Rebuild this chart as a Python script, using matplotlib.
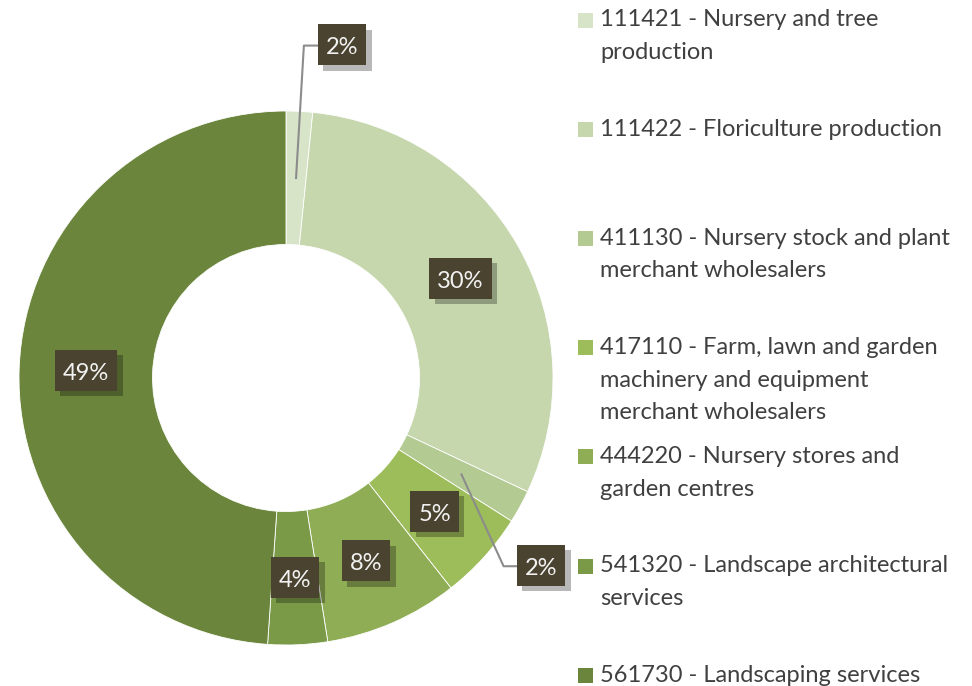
"""
Donut chart: share of establishments by NAICS industry (nursery and landscaping).
"""

import numpy as np
import matplotlib.pyplot as plt
import matplotlib.patheffects as pe
import matplotlib.transforms as mtransforms
from matplotlib.patches import Rectangle

# data
industries = [
    "111421 - Nursery and tree\nproduction",
    "111422 - Floriculture production",
    "411130 - Nursery stock and plant\nmerchant wholesalers",
    "417110 - Farm, lawn and garden\nmachinery and equipment\nmerchant wholesalers",
    "444220 - Nursery stores and\ngarden centres",
    "541320 - Landscape architectural\nservices",
    "561730 - Landscaping services",
]
shares = [1.6, 30.4, 2.0, 5.4, 8.1, 3.6, 48.9]

colors = ["#D8E4C8", "#C6D7AE", "#B3CB92", "#9DBC5A", "#8FAD55", "#7A9A47", "#6B863C"]

# callout boxes for the thin slices: (slice index, box centre, elbow point) in data units
callouts = {
    0: ((0.21, 1.245), (0.067, 1.245)),
    2: ((0.955, -0.705), (0.815, -0.705)),
}

plt.rcParams['font.family'] = ['Lato', 'DejaVu Sans']

fig = plt.figure(figsize=(9.72, 6.86), dpi=100)
W, H = 972, 686
cx, cy, R = 286, 378, 267  # pixel centre and radius of the donut
ax = fig.add_axes([0, 0, 572 / W, 1])

wedges, _ = ax.pie(shares, colors=colors, startangle=90, counterclock=False,
                   radius=1, wedgeprops=dict(width=0.5, edgecolor='white', linewidth=0.6))
ax.set_aspect('auto')
ax.set_xlim(-cx / R, (572 - cx) / R)
ax.set_ylim(-(H - cy) / R, cy / R)
ax.axis('off')
for w in wedges:
    w.set_clip_on(False)

box_color = '#4A4330'
box_shadow = [pe.SimplePatchShadow(offset=(4, -4), shadow_rgbFace='black', alpha=0.28),
              pe.Normal()]
renderer = fig.canvas.get_renderer()


def boxed(x, y, s):
    # label text with a fixed-height dark box (sized in pixels) behind it
    t = ax.text(x, y, s, ha='center', va='center_baseline', fontsize=17,
                color='#F2F2F2', clip_on=False, zorder=6)
    bw = t.get_window_extent(renderer).width + 16
    bh = 41
    box = Rectangle((-bw / 2, -bh / 2 + 1), bw, bh, fc=box_color, ec='none',
                    zorder=5, clip_on=False,
                    transform=mtransforms.ScaledTranslation(x, y, ax.transData))
    box.set_path_effects(box_shadow)
    ax.add_patch(box)


for i, (w, v) in enumerate(zip(wedges, shares)):
    mid = np.deg2rad((w.theta1 + w.theta2) / 2)
    px, py = 0.75 * np.cos(mid), 0.75 * np.sin(mid)
    label = f"{round(v)}%"
    if i in callouts:
        (bx, by), (ex, ey) = callouts[i]
        ax.plot([px, ex, bx - 0.05], [py, ey, by], color='#8C8C8C', lw=1.5,
                clip_on=False, zorder=3)
        boxed(bx, by, label)
    else:
        boxed(px, py, label)

# legend drawn by hand so that entries keep Excel's even spacing
leg_x = 600 / W
sq = 15
for i, (name, c) in enumerate(zip(industries, colors)):
    y0 = 20 + i * 109.2
    fig.patches.append(Rectangle((578 / W, 1 - (y0 + sq / 2) / H), sq / W, sq / H,
                                 transform=fig.transFigure, fc=c, ec='none'))
    for j, line in enumerate(name.split('\n')):
        fig.text(leg_x, 1 - (y0 + j * 32.5) / H, line, ha='left', va='center',
                 fontsize=17, color='#404040')

fig.savefig('out.png', dpi=100)
